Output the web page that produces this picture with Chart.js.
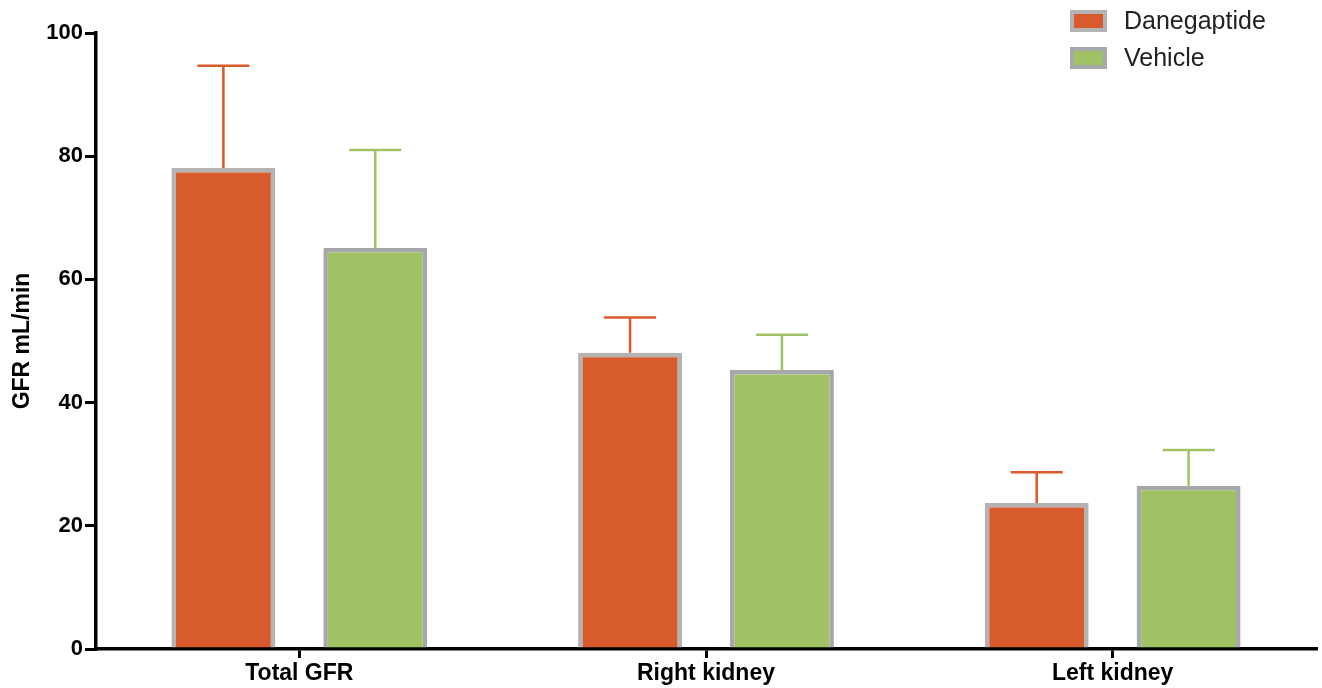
<!DOCTYPE html>
<html>
<head>
<meta charset="utf-8">
<script src="https://cdn.jsdelivr.net/npm/chart.js@4"></script>
<style>
  body { margin: 0; background: #fff; }
  #wrap { width: 1322px; height: 688px; position: relative; }
</style>
</head>
<body>
<div id="wrap"><canvas id="gfr-chart"></canvas></div>
<script>
// data
var categories = ['Total GFR', 'Right kidney', 'Left kidney'];
var danegaptide = [78.1, 48.1, 23.7];
var danegaptideErr = [16.6, 5.7, 5.0];
var vehicle = [65.1, 45.3, 26.5];
var vehicleErr = [15.9, 5.7, 5.8];
var yTicks = [0, 20, 40, 60, 80, 100];

var ORANGE = '#D85B2D';
var GREEN = '#A1C264';
var FONT = '"Liberation Sans", Arial, sans-serif';

// error bars (upper only) drawn through the y scale
var errorBars = {
  id: 'errorBars',
  afterDatasetsDraw: function(chart){
    var ctx = chart.ctx;
    var yScale = chart.scales.y;
    chart.data.datasets.forEach(function(ds, i){
      var meta = chart.getDatasetMeta(i);
      meta.data.forEach(function(bar, j){
        var v = ds.data[j];
        var top = yScale.getPixelForValue(v + ds.errors[j]);
        var base = yScale.getPixelForValue(v);
        ctx.save();
        ctx.strokeStyle = ds.backgroundColor;
        ctx.lineWidth = 2.5;
        ctx.beginPath();
        ctx.moveTo(bar.x, base);
        ctx.lineTo(bar.x, top);
        ctx.moveTo(bar.x - 26, top);
        ctx.lineTo(bar.x + 26, top);
        ctx.stroke();
        ctx.restore();
      });
    });
  }
};

// legend in the top right corner, overlapping the plot top
var cornerLegend = {
  id: 'cornerLegend',
  afterDraw: function(chart){
    var ctx = chart.ctx;
    chart.data.datasets.forEach(function(ds, i){
      var y = 10 + i * 37;
      ctx.save();
      ctx.fillStyle = ds.borderColor;
      ctx.fillRect(1070, y, 37, 22);
      ctx.fillStyle = ds.backgroundColor;
      ctx.fillRect(1074, y + 4, 29, 14);
      ctx.fillStyle = '#222';
      ctx.font = '25px ' + FONT;
      ctx.textBaseline = 'middle';
      ctx.fillText(ds.label, 1124, y + 12);
      ctx.restore();
    });
  }
};

var ctx = document.getElementById('gfr-chart');
var gfrChart = new Chart(ctx, {
  type: 'bar',
  data: {
    labels: categories,
    datasets: [
      {
        label: 'Danegaptide',
        data: danegaptide,
        errors: danegaptideErr,
        backgroundColor: ORANGE,
        borderColor: '#B3B3B3',
        borderWidth: 4.5,
        categoryPercentage: 0.747,
        barPercentage: 0.684
      },
      {
        label: 'Vehicle',
        data: vehicle,
        errors: vehicleErr,
        backgroundColor: GREEN,
        borderColor: '#A6A8AB',
        borderWidth: 4.5,
        categoryPercentage: 0.747,
        barPercentage: 0.684
      }
    ]
  },
  options: {
    responsive: true,
    maintainAspectRatio: false,
    animation: false,
    layout: { padding: { top: 33, right: 6, left: 0, bottom: 0 } },
    plugins: {
      legend: { display: false },
      tooltip: { enabled: false }
    },
    scales: {
      x: {
        afterFit: function(s){ s.height = 39; },
        grid: {
          offset: false,
          drawOnChartArea: false,
          color: '#000',
          lineWidth: 3,
          tickLength: 9
        },
        border: { color: '#000', width: 3.5 },
        ticks: {
          color: '#000',
          padding: 2,
          font: { family: FONT, size: 23, weight: 'bold' }
        }
      },
      y: {
        min: 0,
        max: 100,
        afterFit: function(s){ s.width = 96; },
        afterBuildTicks: function(s){
          s.ticks = yTicks.map(function(v){ return { value: v }; });
        },
        grid: {
          drawOnChartArea: false,
          color: '#000',
          lineWidth: 3,
          tickLength: 11
        },
        border: { color: '#000', width: 3.5 },
        ticks: {
          color: '#000',
          padding: 2,
          font: { family: FONT, size: 22, weight: 'bold' }
        },
        title: {
          display: true,
          text: 'GFR mL/min',
          color: '#000',
          padding: { top: 9, bottom: 0 },
          font: { family: FONT, size: 23, weight: 'bold' }
        }
      }
    }
  },
  plugins: [errorBars, cornerLegend]
});
</script>
</body>
</html>
